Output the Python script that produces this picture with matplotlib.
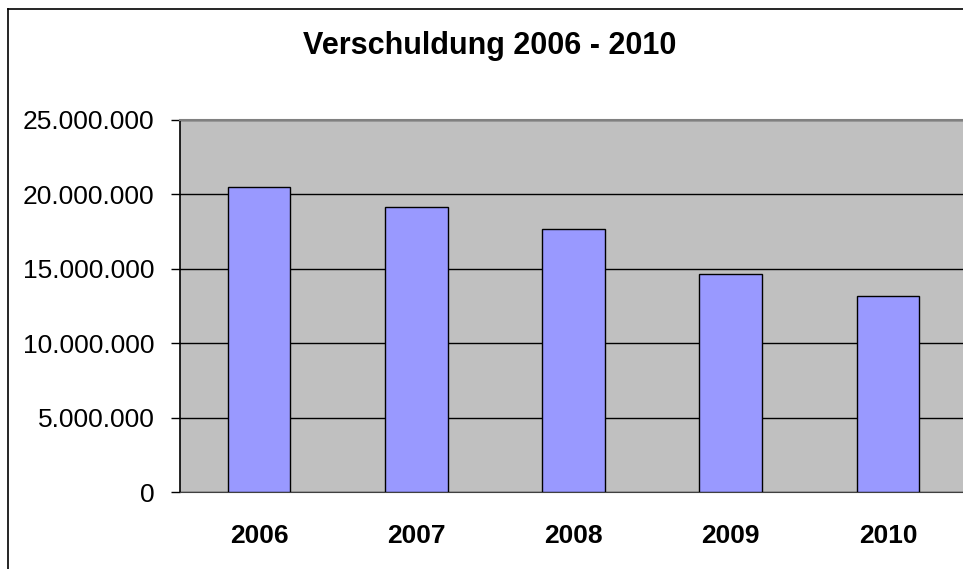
import matplotlib
matplotlib.use("Agg")
import matplotlib.pyplot as plt
from matplotlib.lines import Line2D
from matplotlib.ticker import FuncFormatter, MultipleLocator

# Data
years = ["2006", "2007", "2008", "2009", "2010"]
debt = [20470000, 19130000, 17670000, 14650000, 13180000]

plt.rcParams["font.family"] = ["Liberation Sans", "DejaVu Sans"]

fig = plt.figure(figsize=(9.63, 5.69), dpi=100)
ax = fig.add_axes([180.4 / 963, 1 - 492.3 / 569, 786.2 / 963, 372.3 / 569])

ax.set_facecolor("#C0C0C0")
x = range(len(years))
ax.bar(x, debt, width=0.40, color="#9999FF", edgecolor="black", linewidth=1.0, zorder=3)

ax.set_xlim(-0.5, len(years) - 0.5)
ax.set_ylim(0, 25000000)
ax.yaxis.set_major_locator(MultipleLocator(5000000))
ax.yaxis.set_major_formatter(FuncFormatter(lambda v, p: f"{v:,.0f}".replace(",", ".")))
ax.grid(axis="y", color="black", linewidth=1.0, zorder=1)
ax.set_axisbelow(True)

ax.set_xticks(list(x))
ax.set_xticklabels(years, fontsize=19, fontweight="bold")
ax.tick_params(axis="x", length=0, pad=23)
ax.tick_params(axis="y", labelsize=19, length=6.5, width=1.0, pad=12, direction="out")

ax.spines["left"].set_color("black")
ax.spines["left"].set_linewidth(1.2)
ax.spines["bottom"].set_color("#404040")
ax.spines["top"].set_color("#808080")
ax.spines["top"].set_linewidth(1.5)
ax.spines["right"].set_color("#808080")

fig.text(490 / 963, 1 - 46 / 569, "Verschuldung 2006 - 2010", fontsize=22, fontweight="bold",
         ha="center", va="center")

# outer chart frame (only left and top visible, the rest is cropped)
fig.add_artist(Line2D([8 / 963, 8 / 963], [0, 1 - 9 / 569], color="black", linewidth=1.2,
                      transform=fig.transFigure))
fig.add_artist(Line2D([8 / 963, 1], [1 - 9 / 569, 1 - 9 / 569], color="black", linewidth=1.2,
                      transform=fig.transFigure))

fig.savefig("out.png", dpi=100)
